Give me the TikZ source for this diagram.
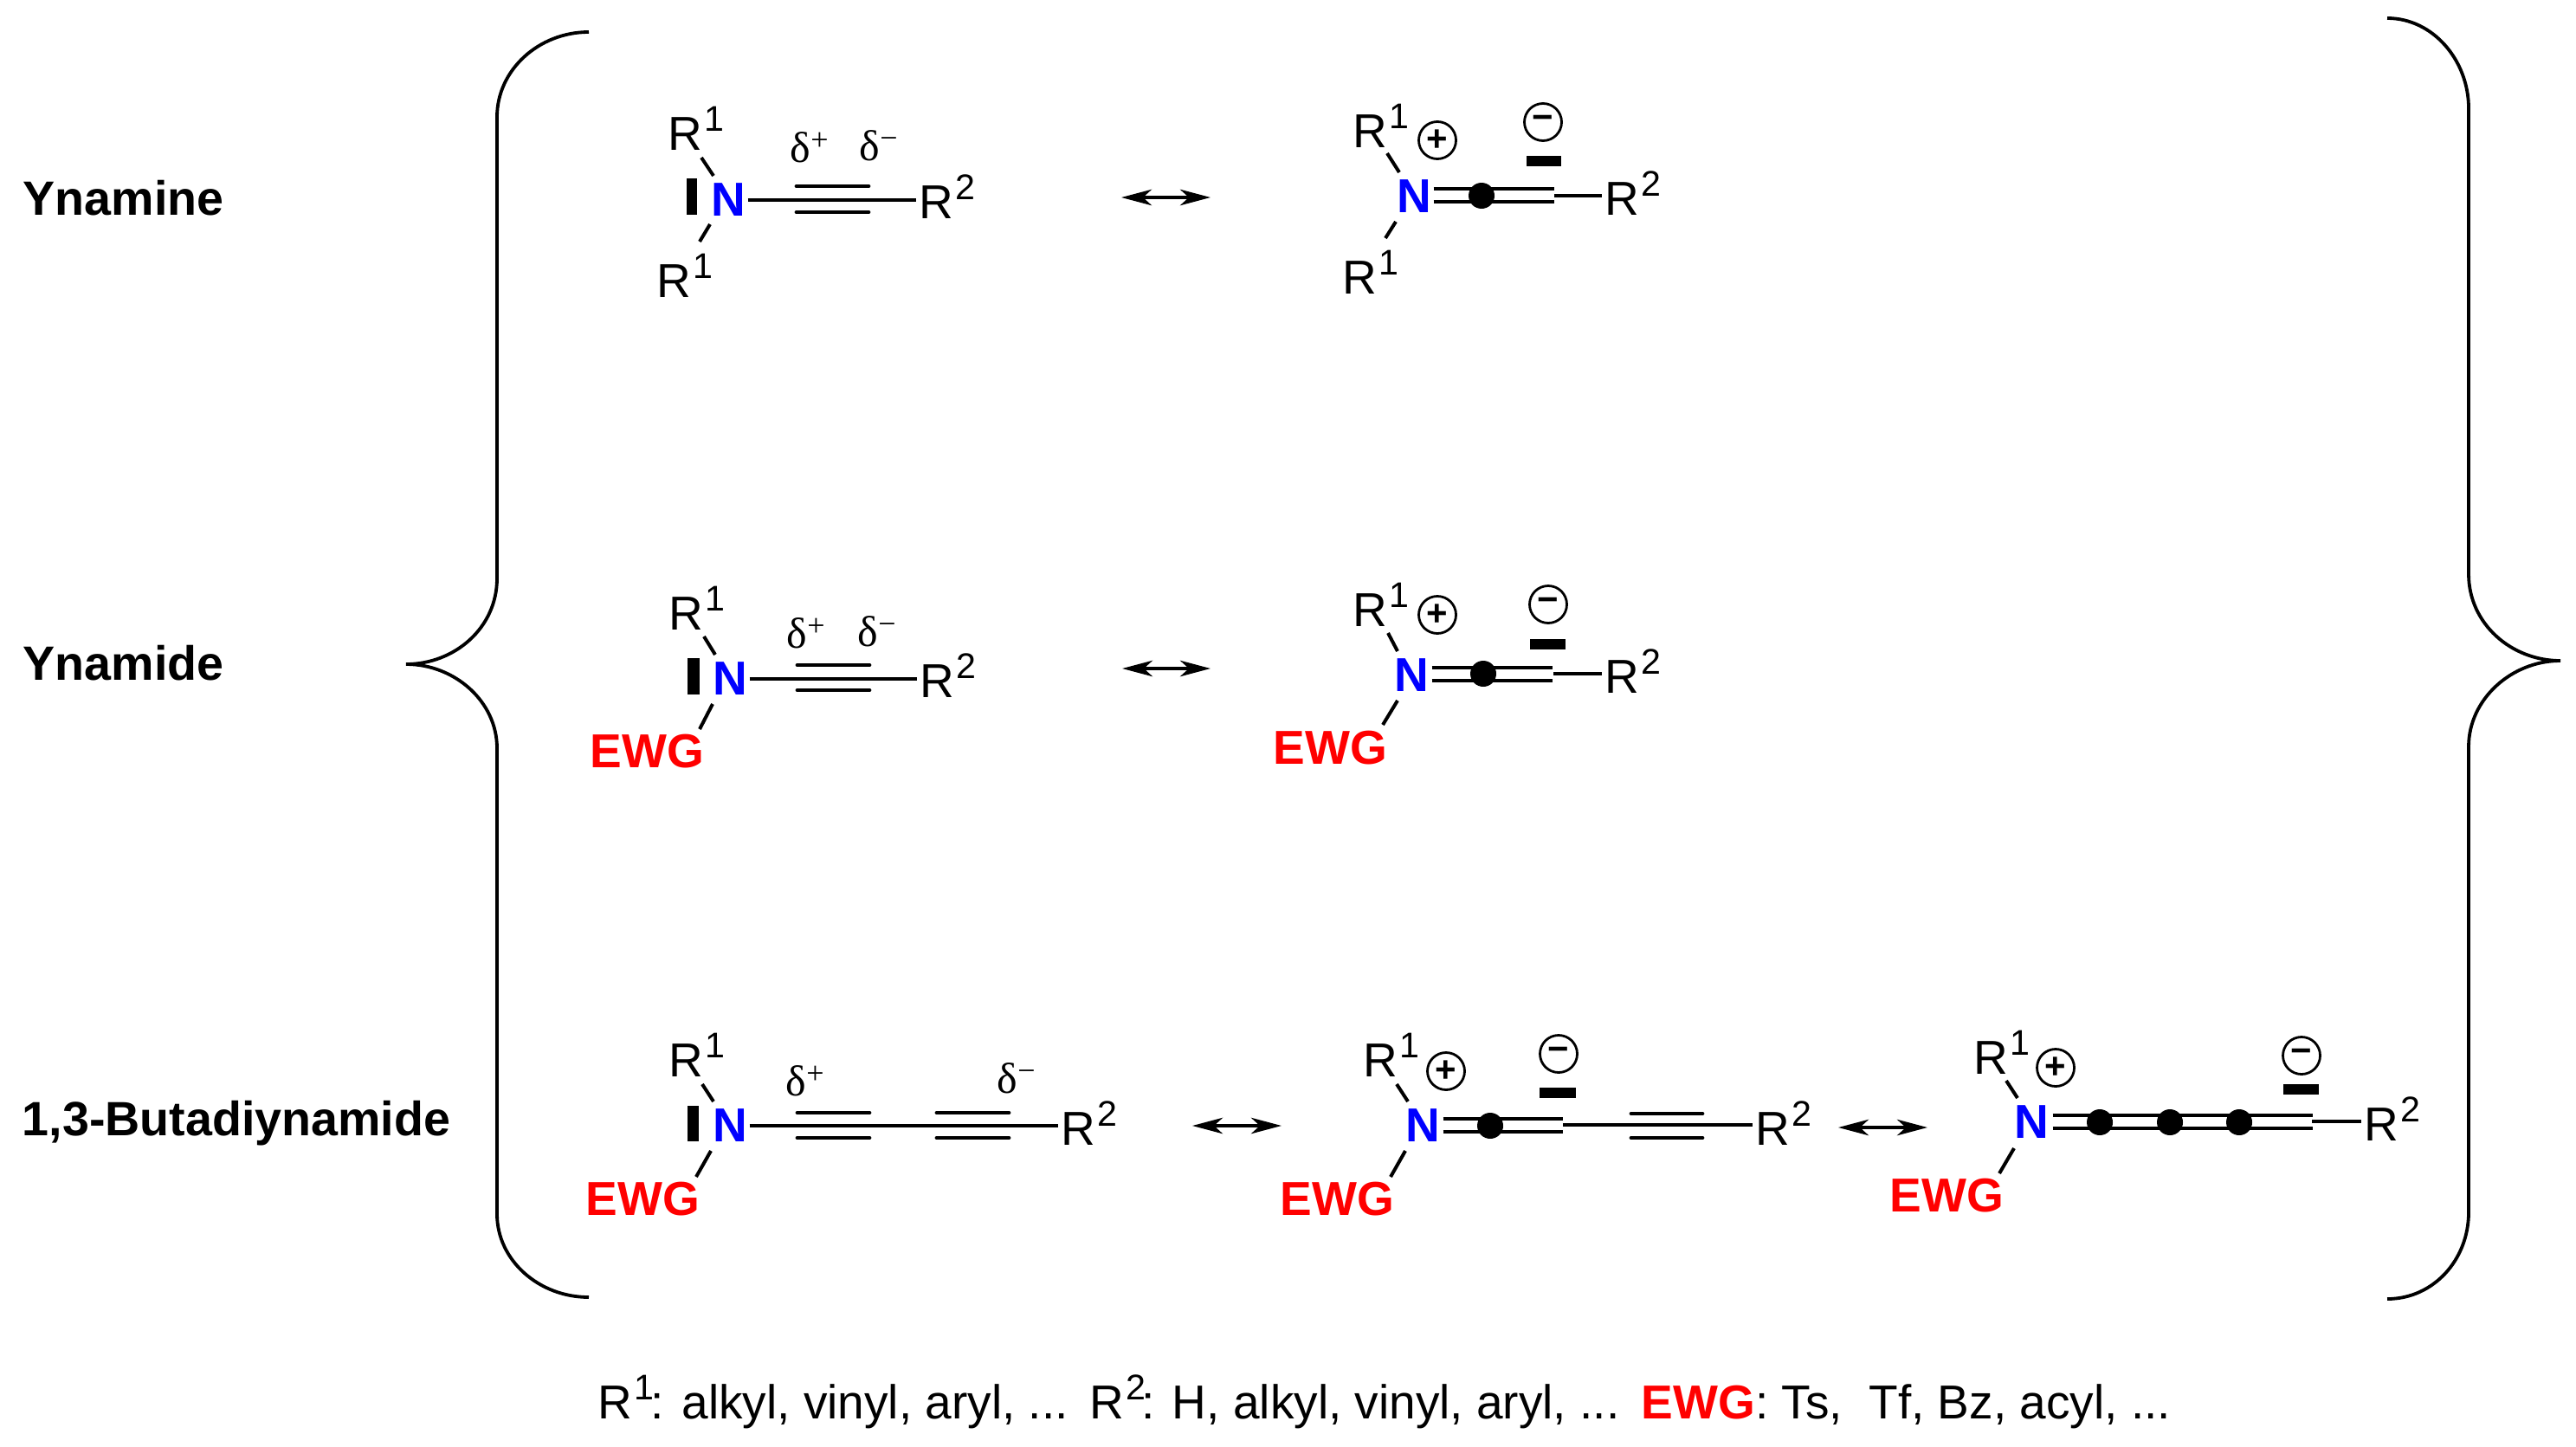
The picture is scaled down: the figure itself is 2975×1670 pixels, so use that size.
\documentclass[tikz,border=0pt]{standalone}
\usepackage{fontspec}
\setmainfont{Liberation Sans}
\newfontfamily\deltafont{Liberation Serif}
\usetikzlibrary{arrows.meta}

\newcommand{\supnum}[1]{\kern0.6pt\raisebox{5.4pt}{\fontsize{10.3}{12}\selectfont #1}}
\newcommand{\deltaup}[1]{{\deltafont\fontsize{12.5}{14}\selectfont δ\raisebox{3.4pt}{\fontsize{9}{10}\selectfont #1}}}

\tikzset{
  atomtxt/.style={anchor=base west,inner sep=0pt,font=\fontsize{13.75}{16}\selectfont},
  headtxt/.style={atomtxt,font=\fontsize{13.9}{16}\selectfont\bfseries},
  ewgtxt/.style={atomtxt,text=red,font=\fontsize{13.75}{16}\selectfont\bfseries},
  atomN/.style={inner sep=0pt,text={rgb,255:red,0;green,0;blue,255},font=\fontsize{13.75}{16}\selectfont\bfseries},
  bond/.style={line width=1pt},
  bondmain/.style={line width=1.15pt,shorten <=2pt*0.25,shorten >=3pt*0.25},
  bondbar/.style={line width=1.2pt,line cap=round},
  bonddot/.style={circle,fill=black,inner sep=0pt,minimum size=7.5pt},
  chgcirc/.style={circle,draw,line width=0.7pt,inner sep=0pt,minimum size=10.75pt,font=\fontsize{10.5}{10}\selectfont\bfseries},
  resarrow/.style={line width=1pt,{Stealth[length=8.75pt,width=4.6pt,inset=2.5pt]}-{Stealth[length=8.75pt,width=4.6pt,inset=2.5pt]}},
  brace/.style={line width=0.95pt}
}

\begin{document}
\begin{tikzpicture}[x=0.25pt,y=0.25pt,yscale=-1,xscale=1]
\useasboundingbox (0,0) rectangle (2975,1670);

%Braces
\draw [brace] (680,37) .. controls (622,37) and (574,81) .. (574,135) -- (574,668) .. controls (574,725) and (525,767) .. (469,767) .. controls (525,767) and (574,810) .. (574,864) -- (574,1402) .. controls (574,1455) and (622,1498) .. (680,1498) ;
\draw [brace] (2757,21) .. controls (2810,21) and (2851,70) .. (2851,125) -- (2851,663) .. controls (2851,720) and (2900,763) .. (2957,763) .. controls (2900,763) and (2851,808) .. (2851,862) -- (2851,1400) .. controls (2851,1455) and (2810,1500) .. (2757,1500) ;

% Row titles
\node [headtxt] (ynamine) at (26,248) {Ynamine};
\node [headtxt] (ynamide) at (26,785) {Ynamide};
\node [headtxt] (butadiyn) at (25,1311) {1,3-Butadiynamide};

% Ynamine, left
\node [atomN] (n1) at (841,231) {N};
\node [atomtxt] (r1a) at (771,173) {R\supnum{1}};
\node [atomtxt] (r1b) at (758,343) {R\supnum{1}};
\node [atomtxt] (r1c) at (1061,252) {R\supnum{2}};
\node [atomtxt] (d1a) at (912,187) {\deltaup{+}};
\node [atomtxt] (d1b) at (992,185) {\deltaup{−}};
\fill (793,206) rectangle (805,248);
\draw [bond] ([shift={(39,9)}]r1a.base west) -- ([shift={(-17,-28)}]n1.center);
\draw [bond] ([shift={(-21,28)}]n1.center) -- ([shift={(50,-64)}]r1b.base west);
\draw [bondmain] (n1.east) -- (n1.east -| r1c.west);
\draw [bondbar] (920,215) -- (1003,215);
\draw [bondbar] (920,245) -- (1003,245);

% Ynamine, right
\coordinate (a1l) at (1295,228);
\coordinate (a1r) at (1398,228);
\draw [resarrow] (a1l) -- (a1r);
\node [atomN] (n2) at (1633,227) {N};
\node [atomtxt] (r2a) at (1562,170) {R\supnum{1}};
\node [atomtxt] (r2b) at (1550,339) {R\supnum{1}};
\node [atomtxt] (r2c) at (1853,248) {R\supnum{2}};
\node [chgcirc] (p2) at (1660,162) {+};
\node [chgcirc] (m2) at (1782,141) {−};
\fill (1763,180) rectangle (1803,192);
\coordinate (c2) at (1793,226);
\draw [bond] ([shift={(40,7)}]r2a.base west) -- ([shift={(-17,-28)}]n2.center);
\draw [bond] ([shift={(-21,29)}]n2.center) -- ([shift={(50,-64)}]r2b.base west);
\draw [bond] ([shift={(2,-9)}]n2.east) -- ([shift={(2,-8)}]c2);
\draw [bond] ([shift={(2,6)}]n2.east) -- ([shift={(2,7)}]c2);
\draw [bondmain] (c2) -- (c2 -| r2c.west);
\node [bonddot] (e2) at (1711,226) {};

% Ynamide, left
\node [atomN] (n3) at (843,784) {N};
\node [atomtxt] (r3a) at (772,727) {R\supnum{1}};
\node [ewgtxt] (w3) at (681,886) {EWG};
\node [atomtxt] (r3c) at (1062,805) {R\supnum{2}};
\node [atomtxt] (d3a) at (908,748) {\deltaup{+}};
\node [atomtxt] (d3b) at (990,746) {\deltaup{−}};
\fill (794,760) rectangle (808,802);
\draw [bond] ([shift={(41,8)}]r3a.base west) -- ([shift={(-17,-28)}]n3.center);
\draw [bond] ([shift={(-20,29)}]n3.center) -- ([shift={(127,-44)}]w3.base west);
\draw [bondmain] (n3.east) -- (n3.east -| r3c.west);
\draw [bondbar] (921,768) -- (1004,768);
\draw [bondbar] (921,797) -- (1004,797);

% Ynamide, right
\coordinate (a3l) at (1296,772);
\coordinate (a3r) at (1398,772);
\draw [resarrow] (a3l) -- (a3r);
\node [atomN] (n4) at (1630,780) {N};
\node [atomtxt] (r4a) at (1562,723) {R\supnum{1}};
\node [ewgtxt] (w4) at (1470,882) {EWG};
\node [atomtxt] (r4c) at (1853,800) {R\supnum{2}};
\node [chgcirc] (p4) at (1660,710) {+};
\node [chgcirc] (m4) at (1788,698) {−};
\fill (1767,738) rectangle (1808,750);
\coordinate (c4) at (1792,778);
\draw [bond] ([shift={(41,8)}]r4a.base west) -- ([shift={(-16,-28)}]n4.center);
\draw [bond] ([shift={(-16,29)}]n4.center) -- ([shift={(127,-45)}]w4.base west);
\draw [bond] ([shift={(3,-9)}]n4.east) -- ([shift={(1,-7)}]c4);
\draw [bond] ([shift={(3,6)}]n4.east) -- ([shift={(1,8)}]c4);
\draw [bondmain] (c4) -- (c4 -| r4c.west);
\node [bonddot] (e4) at (1713,778) {};

% 1,3-Butadiynamide, left
\node [atomN] (n5) at (843,1300) {N};
\node [atomtxt] (r5a) at (772,1243) {R\supnum{1}};
\node [ewgtxt] (w5) at (676,1403) {EWG};
\node [atomtxt] (r5c) at (1225,1322) {R\supnum{2}};
\node [atomtxt] (d5a) at (907,1265) {\deltaup{+}};
\node [atomtxt] (d5b) at (1151,1262) {\deltaup{−}};
\fill (794,1277) rectangle (807,1318);
\draw [bond] ([shift={(39,9)}]r5a.base west) -- ([shift={(-19,-28)}]n5.center);
\draw [bond] ([shift={(-22,29)}]n5.center) -- ([shift={(128,-44)}]w5.base west);
\draw [bondmain] (n5.east) -- (n5.east -| r5c.west);
\foreach \xa/\xb in {921/1004,1082/1165} {
  \draw [bondbar] (\xa,1285) -- (\xb,1285);
  \draw [bondbar] (\xa,1314) -- (\xb,1314);
}

% 1,3-Butadiynamide, middle
\coordinate (a5l) at (1377,1300);
\coordinate (a5r) at (1480,1300);
\draw [resarrow] (a5l) -- (a5r);
\node [atomN] (n6) at (1643,1300) {N};
\node [atomtxt] (r6a) at (1574,1243) {R\supnum{1}};
\node [ewgtxt] (w6) at (1478,1403) {EWG};
\node [atomtxt] (r6c) at (2027,1322) {R\supnum{2}};
\node [chgcirc] (p6) at (1670,1237) {+};
\node [chgcirc] (m6) at (1800,1217) {−};
\fill (1778,1256) rectangle (1820,1268);
\coordinate (c6) at (1803,1299);
\draw [bond] ([shift={(39,9)}]r6a.base west) -- ([shift={(-17,-28)}]n6.center);
\draw [bond] ([shift={(-20,29)}]n6.center) -- ([shift={(128,-44)}]w6.base west);
\draw [bond] ([shift={(3,-8)}]n6.east) -- ([shift={(2,-7)}]c6);
\draw [bond] ([shift={(3,7)}]n6.east) -- ([shift={(2,8)}]c6);
\draw [bondmain] (c6) -- (c6 -| r6c.west);
\draw [bondbar] (1884,1286) -- (1966,1286);
\draw [bondbar] (1884,1314) -- (1966,1314);
\node [bonddot] (e6) at (1721,1300) {};

% 1,3-Butadiynamide, right
\coordinate (a6l) at (2123,1302);
\coordinate (a6r) at (2226,1302);
\draw [resarrow] (a6l) -- (a6r);
\node [atomN] (n7) at (2346,1296) {N};
\node [atomtxt] (r7a) at (2279,1240) {R\supnum{1}};
\node [ewgtxt] (w7) at (2182,1399) {EWG};
\node [atomtxt] (r7c) at (2730,1317) {R\supnum{2}};
\node [chgcirc] (p7) at (2374,1233) {+};
\node [chgcirc] (m7) at (2658,1219) {−};
\fill (2637,1252) rectangle (2678,1264);
\coordinate (c7) at (2668,1295);
\draw [bond] ([shift={(38,8)}]r7a.base west) -- ([shift={(-16,-28)}]n7.center);
\draw [bond] ([shift={(-20,30)}]n7.center) -- ([shift={(127,-44)}]w7.base west);
\draw [bond] ([shift={(4,-8)}]n7.east) -- ([shift={(3,-7)}]c7);
\draw [bond] ([shift={(4,7)}]n7.east) -- ([shift={(3,8)}]c7);
\draw [bondmain] (c7) -- (c7 -| r7c.west);
\node [bonddot] (e7a) at (2425,1296) {};
\node [bonddot] (e7b) at (2506,1296) {};
\node [bonddot] (e7c) at (2586,1296) {};

% Footnote
\node [atomtxt] (legend) at (690,1638) {R\supnum{1}\kern-1pt: alkyl, vinyl, aryl, ...\kern1pt{} R\supnum{2}\kern-1.2pt: H, alkyl, vinyl, aryl, ...\kern1.2pt{} \textcolor{red}{\textbf{EWG}}: Ts,\ \ Tf, Bz, acyl, ...};

\end{tikzpicture}
\end{document}
